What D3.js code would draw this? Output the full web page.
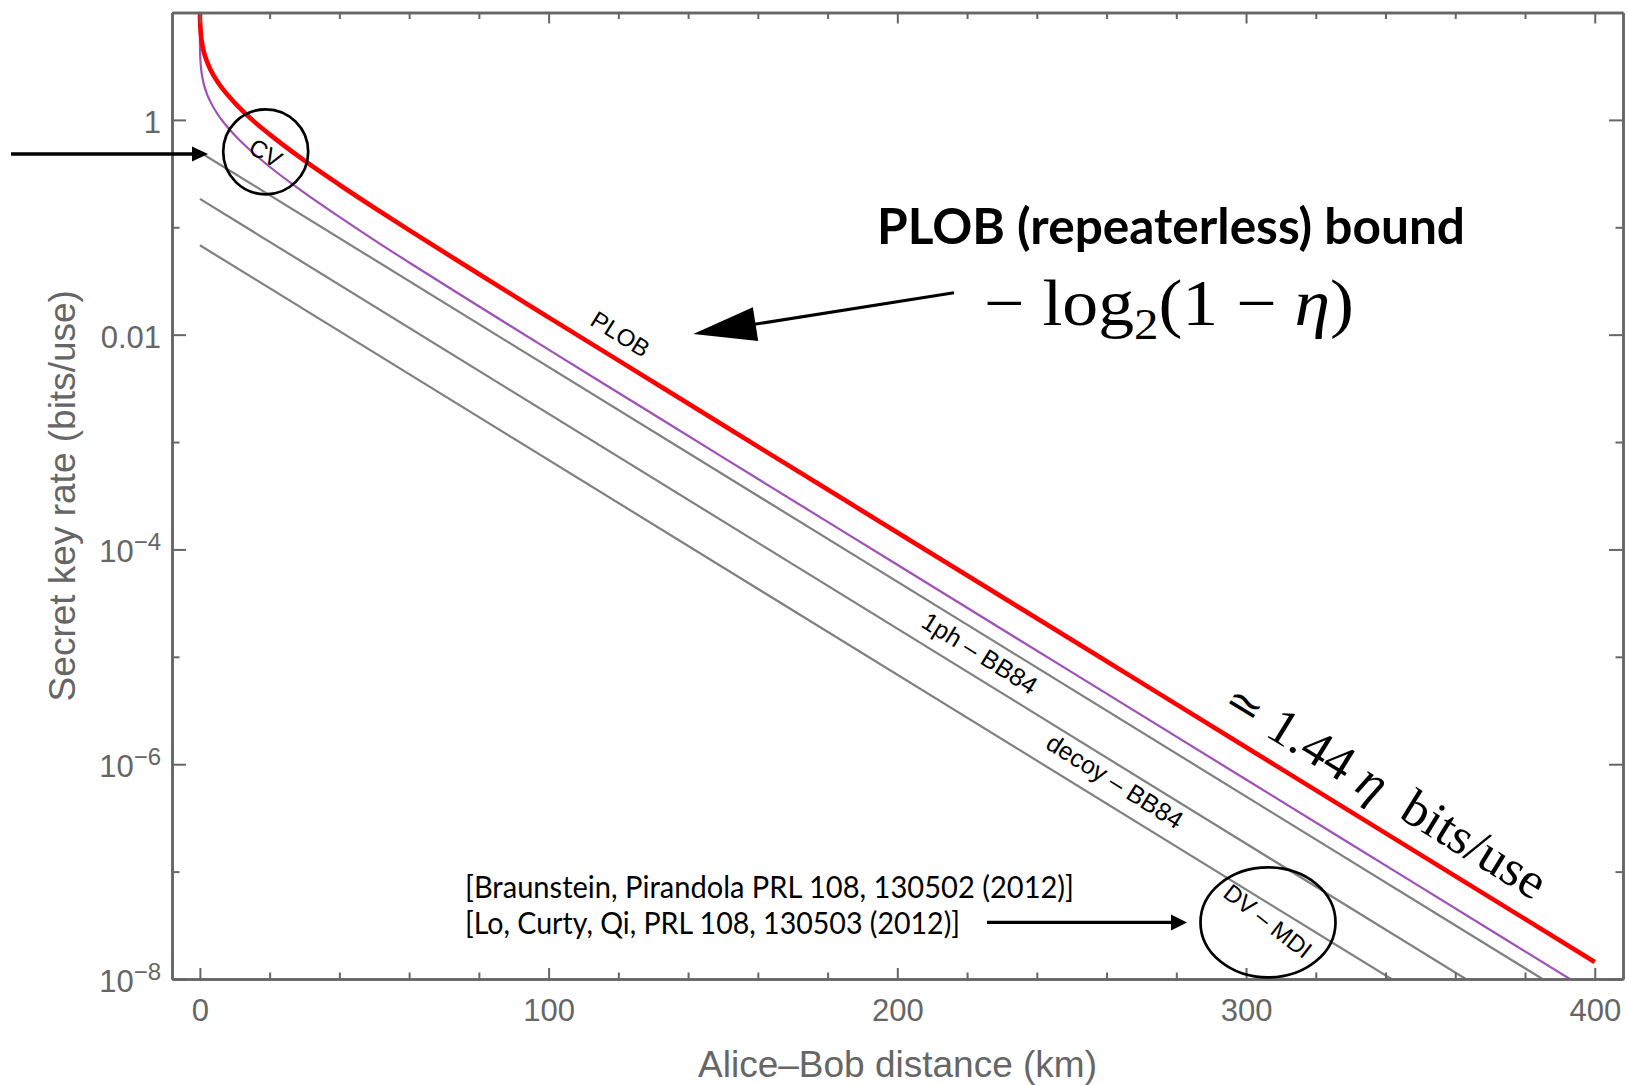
<!DOCTYPE html>
<html>
<head>
<meta charset="utf-8">
<script src="https://cdnjs.cloudflare.com/ajax/libs/d3/7.8.5/d3.min.js"></script>
<style>
body { margin: 0; background: #fff; }
</style>
</head>
<body>
<div id="chart"></div>
<script>
// Data: distance (km) and key rate (bits/use)
var plob_km   = [0.02, 0.05, 0.1, 0.2, 0.5, 1, 2, 3, 5, 7, 10, 15, 20, 30, 40, 50, 60, 80, 100, 120, 150, 200, 250, 300, 350, 400];
var plob_rate = [10.1, 8.76, 7.77, 6.77, 5.46, 4.47, 3.51, 2.95, 2.28, 1.86, 1.44, 1.0, 0.733, 0.417, 0.249, 0.152, 0.094, 0.0367, 0.0145, 0.00576, 0.00144, 1.44e-4, 1.44e-5, 1.44e-6, 1.44e-7, 1.44e-8];

var cv_km   = [0.00002, 0.001, 0.01, 0.05, 0.1, 0.2, 0.5, 1, 2, 3, 5, 7, 10, 15, 20, 30, 40, 50, 60, 80, 100, 120, 150, 200, 250, 300, 350, 400];
var cv_rate = [10.0, 7.21, 5.54, 4.38, 3.88, 3.39, 2.73, 2.24, 1.75, 1.48, 1.14, 0.93, 0.719, 0.502, 0.366, 0.209, 0.125, 0.076, 0.047, 0.0184, 0.00725, 0.00288, 7.2e-4, 7.2e-5, 7.2e-6, 7.2e-7, 7.2e-8, 7.2e-9];

var bb84_1ph_km     = [0, 385];
var bb84_1ph_rate   = [0.5, 1e-8];
var bb84_decoy_km   = [0, 363];
var bb84_decoy_rate = [0.184, 1e-8];
var mdi_km          = [0, 341.7];
var mdi_rate        = [0.068, 1e-8];

// Ticks
var x_major = [0, 100, 200, 300, 400];
var x_minor = [20, 40, 60, 80, 120, 140, 160, 180, 220, 240, 260, 280, 320, 340, 360, 380];
var y_major = [1, 0.01, 1e-4, 1e-6, 1e-8];
var y_major_base = ['1', '0.01', '10', '10', '10'];
var y_major_exp  = ['', '', '\u22124', '\u22126', '\u22128'];
var y_minor = [10, 0.1, 1e-3, 1e-5, 1e-7];

// The SVG Element
var chart_width  = 1627;
var chart_height = 1085;
var frame = { left: 172, right: 1623, top: 12.5, bottom: 979 };
var axis_color = '#666';
var sans = '"Liberation Sans", Arial, sans-serif';

var x = d3.scaleLinear().domain([-8, 408.1]).range([frame.left, frame.right]);
var y = d3.scaleLog().domain([1e-8, 10]).range([frame.bottom, frame.top]);

var svg = d3.select('#chart')
    .append('svg')
    .attr('width', chart_width)
    .attr('height', chart_height)
    .style('display', 'block');

svg.append('rect')
    .attr('width', chart_width)
    .attr('height', chart_height)
    .attr('fill', '#fff');

svg.append('clipPath')
    .attr('id', 'plot_clip')
    .append('rect')
    .attr('x', frame.left)
    .attr('y', frame.top)
    .attr('width', frame.right - frame.left)
    .attr('height', frame.bottom - frame.top);

function zip(a, b) {
    return a.map(function(d, i){ return [d, b[i]]; });
}

var line = d3.line()
    .x(function(d){ return x(d[0]); })
    .y(function(d){ return y(d[1]); })
    .curve(d3.curveMonotoneX);

var curves = svg.append('g').attr('clip-path', 'url(#plot_clip)');

var series = [
    { pts: zip(mdi_km, mdi_rate),               color: '#808080', width: 2.2 },
    { pts: zip(bb84_decoy_km, bb84_decoy_rate), color: '#808080', width: 2.2 },
    { pts: zip(bb84_1ph_km, bb84_1ph_rate),     color: '#808080', width: 2.2 },
    { pts: zip(cv_km, cv_rate),                 color: '#a150b9', width: 2.2 },
    { pts: zip(plob_km, plob_rate),             color: '#ff0000', width: 4.6 }
];

curves.selectAll('path')
    .data(series)
    .enter()
    .append('path')
    .attr('d', function(d){ return line(d.pts); })
    .attr('fill', 'none')
    .attr('stroke', function(d){ return d.color; })
    .attr('stroke-width', function(d){ return d.width; })
    .attr('stroke-linejoin', 'round');

// Frame with inward ticks on all four sides
function style_axis(g) {
    g.attr('color', axis_color)
     .attr('font-family', sans)
     .attr('font-size', 31);
    g.select('.domain').attr('stroke-width', 2.5);
    g.selectAll('.tick line').attr('stroke-width', 2);
    g.selectAll('.tick text').attr('fill', axis_color);
}

svg.append('g')
    .attr('transform', 'translate(0,' + frame.bottom + ')')
    .call(d3.axisBottom(x).tickValues(x_minor).tickSize(-6.5).tickSizeOuter(0).tickFormat(''))
    .call(style_axis);

svg.append('g')
    .attr('transform', 'translate(0,' + frame.bottom + ')')
    .call(d3.axisBottom(x).tickValues(x_major).tickSize(-11).tickSizeOuter(0).tickPadding(19.5))
    .call(style_axis);

svg.append('g')
    .attr('transform', 'translate(0,' + frame.top + ')')
    .call(d3.axisTop(x).tickValues(x_minor).tickSize(-6.5).tickSizeOuter(0).tickFormat(''))
    .call(style_axis);

svg.append('g')
    .attr('transform', 'translate(0,' + frame.top + ')')
    .call(d3.axisTop(x).tickValues(x_major).tickSize(-11).tickSizeOuter(0).tickFormat(''))
    .call(style_axis);

svg.append('g')
    .attr('transform', 'translate(' + frame.left + ',0)')
    .call(d3.axisLeft(y).tickValues(y_minor).tickSize(-7.5).tickSizeOuter(0).tickFormat(''))
    .call(style_axis);

var left_axis = svg.append('g')
    .attr('transform', 'translate(' + frame.left + ',0)')
    .call(d3.axisLeft(y).tickValues(y_major).tickSize(-14).tickSizeOuter(0).tickPadding(11)
        .tickFormat(function(d, i){ return y_major_base[i]; }))
    .call(style_axis);

left_axis.selectAll('.tick text')
    .attr('dy', '0.4em')
    .each(function(d, i){
        if (y_major_exp[i]) {
            d3.select(this).append('tspan')
                .attr('dy', -12)
                .attr('font-size', 24)
                .text(y_major_exp[i]);
        }
    });

svg.append('g')
    .attr('transform', 'translate(' + frame.right + ',0)')
    .call(d3.axisRight(y).tickValues(y_minor).tickSize(-7.5).tickSizeOuter(0).tickFormat(''))
    .call(style_axis);

svg.append('g')
    .attr('transform', 'translate(' + frame.right + ',0)')
    .call(d3.axisRight(y).tickValues(y_major).tickSize(-14).tickSizeOuter(0).tickFormat(''))
    .call(style_axis);

// Axis titles
svg.append('text')
    .attr('x', (frame.left + frame.right) / 2)
    .attr('y', 1077)
    .attr('text-anchor', 'middle')
    .attr('font-family', sans)
    .attr('font-size', 37)
    .attr('fill', axis_color)
    .text('Alice\u2013Bob distance (km)');

svg.append('text')
    .attr('transform', 'translate(75,' + (frame.top + frame.bottom) / 2 + ') rotate(-90)')
    .attr('text-anchor', 'middle')
    .attr('font-family', sans)
    .attr('font-size', 37)
    .attr('fill', axis_color)
    .text('Secret key rate (bits/use)');

// Labels along the curves
var slope_deg = 32;
var line_labels = [
    { text: 'PLOB',          cx: 620.5,  cy: 334,   size: 24, rot: slope_deg },
    { text: '1ph \u2013 BB84',   cx: 980,    cy: 653,   size: 25, rot: slope_deg },
    { text: 'decoy \u2013 BB84', cx: 1115,   cy: 781,   size: 25, rot: slope_deg },
    { text: 'CV',            cx: 265.7,  cy: 153,   size: 24, rot: 30 },
    { text: 'DV \u2013 MDI',     cx: 1268,   cy: 921,   size: 24, rot: 38 }
];

svg.selectAll('text.line_label')
    .data(line_labels)
    .enter()
    .append('text')
    .attr('class', 'line_label')
    .attr('transform', function(d){ return 'translate(' + d.cx + ',' + d.cy + ') rotate(' + d.rot + ')'; })
    .attr('text-anchor', 'middle')
    .attr('dominant-baseline', 'central')
    .attr('font-family', sans)
    .attr('font-size', function(d){ return d.size; })
    .attr('fill', '#000')
    .text(function(d){ return d.text; });

// Circles around CV and DV-MDI
svg.append('circle')
    .attr('cx', 265.7).attr('cy', 151.8).attr('r', 42.5)
    .attr('fill', 'none').attr('stroke', '#000').attr('stroke-width', 2.7);

svg.append('ellipse')
    .attr('cx', 1268).attr('cy', 922.4).attr('rx', 67.5).attr('ry', 55)
    .attr('fill', 'none').attr('stroke', '#000').attr('stroke-width', 2.7);

// Arrows
function arrow(x1, y1, x2, y2, head_len, head_half, width) {
    var ang = Math.atan2(y2 - y1, x2 - x1);
    var bx = x2 - head_len * Math.cos(ang), by = y2 - head_len * Math.sin(ang);
    var nx = -Math.sin(ang) * head_half, ny = Math.cos(ang) * head_half;
    svg.append('line')
        .attr('x1', x1).attr('y1', y1).attr('x2', bx + Math.cos(ang)).attr('y2', by + Math.sin(ang))
        .attr('stroke', '#000').attr('stroke-width', width);
    svg.append('path')
        .attr('d', 'M' + x2 + ',' + y2 + 'L' + (bx + nx) + ',' + (by + ny) + 'L' + (bx - nx) + ',' + (by - ny) + 'Z')
        .attr('fill', '#000');
}

arrow(11, 154, 208, 154, 16, 7.5, 3.3);
arrow(954, 292.7, 693.3, 334, 63, 17, 3);
arrow(987, 922.4, 1187, 922.4, 16, 8, 3.3);

// Headline and formulas
svg.append('text')
    .attr('x', 877).attr('y', 244)
    .attr('font-family', 'Lato, "Open Sans", sans-serif')
    .attr('font-weight', 'bold')
    .attr('font-size', 50)
    .attr('textLength', 588)
    .attr('lengthAdjust', 'spacingAndGlyphs')
    .text('PLOB (repeaterless) bound');

var serif = '"Liberation Serif", "DejaVu Serif", serif';

var formula = svg.append('text')
    .attr('x', 984).attr('y', 325)
    .attr('font-family', serif)
    .attr('font-size', 66)
    .attr('textLength', 370)
    .attr('lengthAdjust', 'spacingAndGlyphs');
formula.append('tspan').text('\u2212 log');
formula.append('tspan').attr('font-size', 45).attr('dy', 14).text('2');
formula.append('tspan').attr('dy', -14).text('(1 \u2212 ');
formula.append('tspan').attr('font-style', 'italic').text('\u03b7');
formula.append('tspan').text(')');

var approx = svg.append('text')
    .attr('transform', 'translate(1386,790) rotate(31.6)')
    .attr('text-anchor', 'middle')
    .attr('dominant-baseline', 'central')
    .attr('font-family', serif)
    .attr('font-size', 51)
    .attr('textLength', 368)
    .attr('lengthAdjust', 'spacingAndGlyphs');
approx.append('tspan').attr('font-family', '"DejaVu Serif", serif').attr('font-size', 44).text('\u2243');
approx.append('tspan').text(' 1.44 ');
approx.append('tspan').attr('font-style', 'italic').text('\u03b7');
approx.append('tspan').text('\u2002bits/use');

// References
var ref_font = 'Lato, "Open Sans", sans-serif';
svg.append('text')
    .attr('x', 465).attr('y', 897.5)
    .attr('font-family', ref_font)
    .attr('font-size', 30)
    .attr('textLength', 609)
    .attr('lengthAdjust', 'spacingAndGlyphs')
    .text('[Braunstein, Pirandola PRL 108, 130502 (2012)]');

svg.append('text')
    .attr('x', 465).attr('y', 934)
    .attr('font-family', ref_font)
    .attr('font-size', 30)
    .attr('textLength', 495)
    .attr('lengthAdjust', 'spacingAndGlyphs')
    .text('[Lo, Curty, Qi, PRL 108, 130503 (2012)]');
</script>
</body>
</html>
